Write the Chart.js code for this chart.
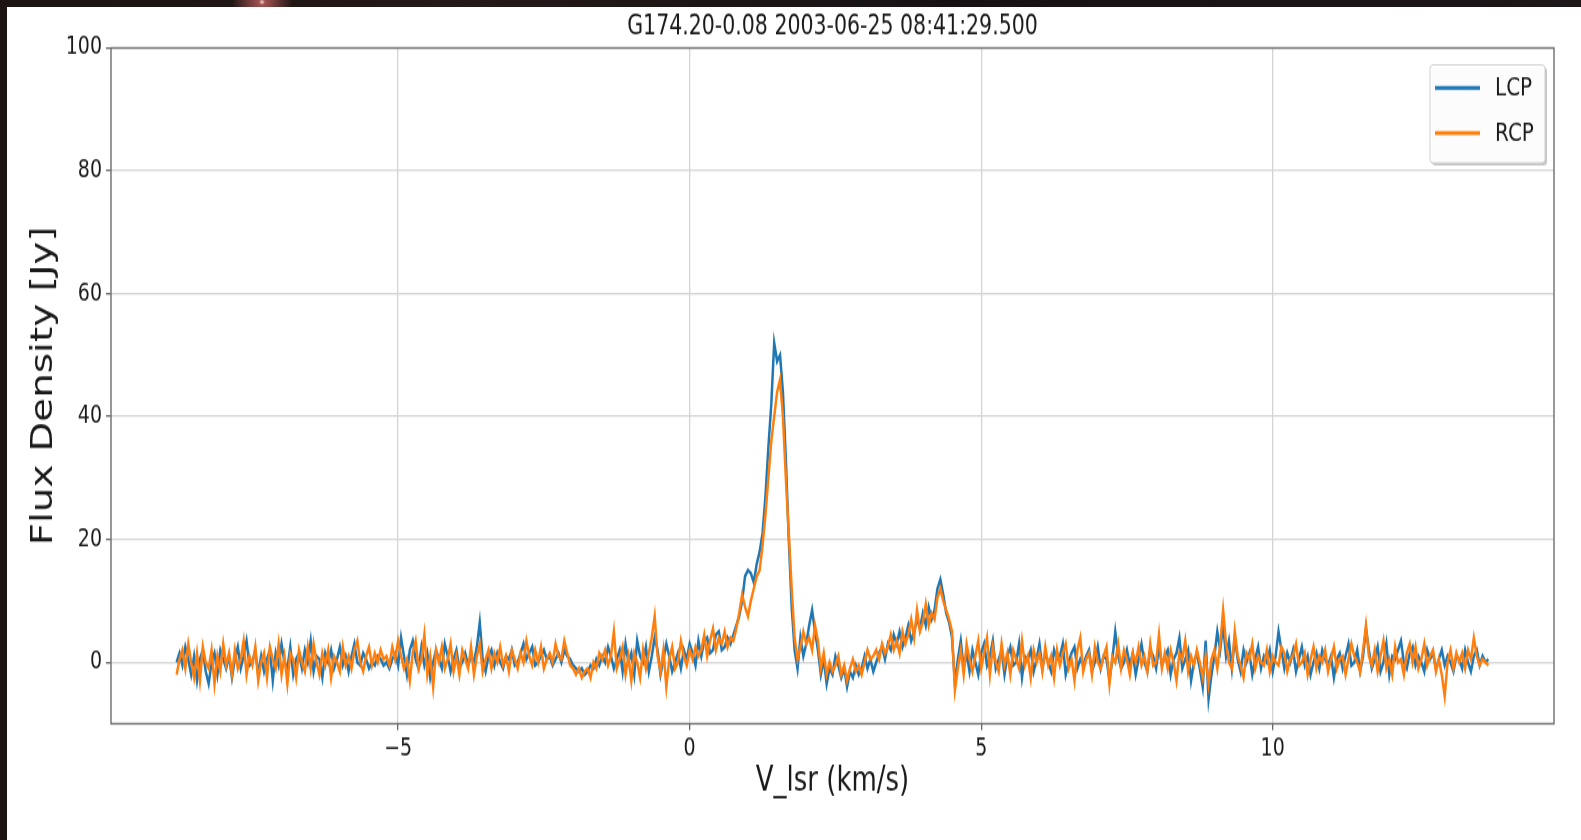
<!DOCTYPE html>
<html><head><meta charset="utf-8">
<script src="https://cdn.jsdelivr.net/npm/chart.js@4.4.0/dist/chart.umd.min.js"></script>
<style>
html,body{margin:0;padding:0;width:1581px;height:840px;overflow:hidden;}
body{background:radial-gradient(circle at 262px 2px,#f3d6d0 0,#a05050 3px,rgba(60,30,30,0) 30px),linear-gradient(90deg,#1b1410,#241a18 30%,#161214 60%,#1d1718);}
#page{position:absolute;left:7px;top:7px;width:1574px;height:833px;background:#fff;overflow:hidden;}
#wrap{position:absolute;left:0;top:0;width:1574px;height:641px;transform:scaleY(1.29953);transform-origin:0 0;}
canvas{display:block;}
</style></head><body>
<div id="page"><div id="wrap"><canvas id="c" width="1574" height="641" style="width:1574px;height:641px"></canvas></div></div>
<script>
// channel grid (km/s): -8.8 ... 13.7 in 0.05 km/s channels
const vStart = -8.8;
const vStep = 0.05;
// LCP flux density (Jy); each line = 1 km/s (20 channels)
const lcp = [
 0.0, 1.5, -0.5, 2.5, 0.5, -2.0, 1.0, -3.0, 0.5, 2.0,   -1.5, -3.5, 0.0, 1.5, -2.0, 2.0, 0.5, -1.0, 1.0, -2.5,
 0.5, 2.5, -1.0, 1.0, 3.5, -0.5, 0.0, 2.0, -2.0, 1.0,   -1.5, 0.5, 2.0, -3.0, 1.5, -0.5, 3.0, 0.0, -1.0, 2.5,
 -2.0, 0.5, 1.5, -1.0, 2.0, 0.0, 3.5, -1.5, 1.0, 0.5,   -2.5, 1.5, 0.0, 2.0, -1.0, 0.5, 2.5, -0.5, 1.0, -1.5,
 1.0, 3.0, 0.0, -0.5, 1.5, 0.5, -1.0, 0.0, -0.5, 1.0,   0.5, -0.5, 0.0, -1.0, 0.5, 1.5, -0.5, 4.0, 1.0, -2.0,
 2.0, 3.5, 0.5, -1.0, 2.5, -0.5, 1.5, -2.5, 0.0, 2.0,   0.5, -1.0, 3.0, 1.0, -1.5, 0.5, 2.0, -1.0, 0.0, 1.5,
 -0.5, 1.0, 0.0, 2.5, 6.5, 0.5, -1.5, 1.0, 2.0, -0.5,   1.5, 0.0, -1.0, 1.0, 0.5, 2.0, -0.5, 0.0, 1.5, 3.0,
 0.5, 1.5, 2.5, -0.5, 0.0, 1.0, 2.0, 0.5, 1.0, -0.5,    0.5, 1.5, 0.0, 2.0, 1.0, 0.5, -0.5, -1.0, -1.5, -1.0,
 -2.0, -1.5, -0.5, -1.0, 0.5, -0.5, 1.0, 0.0, 2.5, 1.0, -1.0, 0.5, 2.0, -1.5, 3.0, 0.0, 1.5, -2.0, 3.5, 1.0,
 0.0, 2.5, -1.5, 1.0, 4.0, 2.0, -2.0, 0.5, 3.0, 1.0,    -1.5, 0.0, 1.5, -1.0, 2.0, 0.5, 3.0, 1.5, -0.5, 3.5,
 1.0, 3.5, 4.0, 1.5, 2.0, 4.5, 5.0, 2.0, 2.5, 4.0,      3.0, 4.5, 6.0, 7.5, 10.0, 14.0, 15.0, 14.5, 13.0, 16.0,
 18.0, 21.0, 27.0, 35.0, 42.0, 52.0, 49.0, 50.0, 44.0, 33.0, 20.0, 9.0, 2.0, -1.0, 4.0, 1.0, 3.0, 6.0, 8.5, 5.0,
 2.0, -2.0, 0.5, -3.5, -1.0, -2.0, 1.0, -0.5, -2.5, -1.0, -4.0, -1.5, -2.5, -0.5, -2.0, -1.0, 1.0, -1.0, 0.5, -1.5,
 0.0, 1.5, 2.5, 0.5, 3.0, 2.0, 4.5, 3.0, 5.0, 2.5,      4.0, 6.0, 3.5, 5.0, 7.0, 5.5, 8.0, 6.0, 9.0, 7.0,
 8.5, 12.0, 13.5, 11.0, 8.0, 6.5, 4.0, -3.5, 0.5, 3.5,  -1.0, 1.5, -1.5, 2.0, 0.0, -2.0, 1.5, 3.0, -0.5, 1.0,
 3.5, -1.0, 0.5, 2.0, -2.0, 1.0, 2.5, -0.5, 0.0, 3.0,   -2.5, 1.0, 0.5, 2.0, -1.5, 0.5, 3.0, -1.0, 1.5, 0.0,
 -1.5, 2.0, 0.5, 1.0, 3.0, -2.0, 0.0, 1.5, 2.5, -1.0,   0.5, -0.5, 1.0, 2.0, -1.5, 0.0, 2.5, -1.0, 1.0, 0.5,
 -3.0, 0.5, 5.0, 1.0, -1.0, 0.0, 2.0, -0.5, 1.5, -2.0,  0.5, 3.0, 0.0, -1.5, 2.0, 1.0, -1.0, 2.5, -0.5, 1.0,
 2.0, -2.0, 0.5, 1.5, 4.0, -1.0, 0.5, 2.0, -3.0, 0.0,   1.5, -1.0, -4.0, 3.5, -6.0, -2.0, 1.0, 5.0, 2.0, 6.0,
 1.0, 3.5, -1.0, 4.0, 0.5, -1.5, 2.0, 0.0, 1.5, -2.0,   0.5, 2.5, -1.0, 1.0, 0.0, 2.0, -1.5, 1.0, 5.0, 2.0,
 -1.0, 1.5, 0.0, 2.0, -1.5, 0.5, 2.5, -0.5, 1.0, -2.0,  0.0, 1.5, -1.0, 2.0, 0.5, -0.5, 1.0, -2.5, 0.5, 1.5,
 -1.0, 1.0, 3.0, -0.5, 0.0, 2.0, -1.5, 1.0, 5.5, 2.0,   -1.0, 0.5, 2.5, -1.5, 0.0, 3.0, -2.0, 1.0, 0.5, 2.0,
 3.5, 0.0, -1.0, 1.5, 2.5, -0.5, 1.0, 0.0, -1.5, 2.0,   0.5, 1.5, -1.0, 0.5, 2.0, -0.5, 1.0, 0.0, -1.5, 1.0,
 0.5, -1.0, 2.0, 0.0, -1.5, 1.0, 2.0, -0.5, 1.0, 0.0,   0.5
];
// RCP flux density (Jy)
const rcp = [
 -2.0, 0.5, 2.0, -1.0, 3.0, 0.0, -2.5, 1.5, -3.0, 2.5, 0.0, -1.0, 2.0, -3.5, 1.0, -1.5, 3.0, -0.5, 1.5, -2.0,
 2.0, -1.0, 0.5, 3.5, -2.0, 1.0, -0.5, 2.5, -3.0, 0.0,  1.5, -2.5, 2.5, 0.5, -1.0, 3.0, -2.0, 1.0, -3.5, 1.5,
 0.5, -2.5, 2.0, 0.0, -1.5, 2.5, -1.0, 3.0, 0.0, -2.0,  1.5, -0.5, 2.0, -2.5, 1.0, 0.0, -1.5, 2.5, -0.5, 1.0,
 -1.0, 2.0, 3.5, 0.0, -1.5, 1.0, 2.5, -0.5, 1.5, 0.0,   2.0, 0.5, 1.0, -0.5, 2.5, 0.5, 3.5, 1.0, -1.0, 0.5,
 -3.0, 1.5, 3.5, -1.0, 0.5, 4.5, -2.0, 1.0, -4.0, 2.0,  0.0, 2.5, -1.0, 0.5, 3.0, -1.5, 1.0, -2.0, 2.0, 0.5,
 -1.0, 2.5, -2.0, 1.0, 3.0, -1.5, 0.5, 2.0, -1.0, 1.5,  0.0, 2.5, -0.5, 1.0, -1.5, 2.0, 0.5, -1.0, 1.5, 0.0,
 3.5, 1.0, -0.5, 2.0, 0.0, 2.5, -1.0, 0.5, 1.5, 0.0,    3.0, 1.0, 0.5, 3.5, 1.5, -0.5, -1.0, -2.0, -1.0, -2.5,
 -1.5, -1.0, -2.5, 0.0, -1.0, 1.5, 0.5, 2.0, -0.5, 1.0, 5.0, -1.0, 0.5, 2.5, -2.0, 1.0, -3.0, 1.5, 0.0, -2.5,
 2.0, -1.0, 1.5, 4.0, 7.5, 1.0, -1.5, 2.0, -4.0, 0.5,   2.5, -1.0, 0.0, 3.5, 1.0, -0.5, 2.0, 0.5, 2.5, 1.0,
 2.0, 4.5, 1.0, 3.5, 5.5, 2.0, 4.0, 3.0, 5.0, 2.5,      4.0, 3.5, 5.5, 8.0, 11.0, 9.0, 7.5, 10.0, 12.0, 14.0,
 15.0, 19.0, 24.0, 30.0, 36.0, 40.0, 44.0, 46.0, 40.0, 30.0, 21.0, 12.0, 4.0, 0.5, 2.5, 5.0, 3.0, 4.0, 2.0, 6.0,
 3.5, -1.0, 1.5, -2.0, 0.0, -1.5, -0.5, 1.0, -2.0, -0.5, -3.0, -1.0, 0.5, -1.5, -0.5, -2.0, 0.0, 2.0, 0.5, 1.0,
 2.0, 0.5, 3.0, 1.5, 2.5, 4.5, 2.0, 3.5, 1.5, 5.0,      3.0, 4.5, 7.0, 4.0, 8.5, 5.0, 6.5, 9.5, 6.0, 8.0,
 7.0, 10.5, 12.0, 10.0, 8.5, 7.0, 5.0, -4.5, -1.0, 2.0, -2.0, 3.0, 0.5, -1.5, 1.0, 3.5, -1.0, 1.5, 4.0, -2.0,
 2.5, 0.0, -1.5, 3.0, -0.5, 1.5, -2.0, 2.0, 0.5, -1.0,  3.5, -0.5, 1.0, -2.5, 2.0, 0.0, 1.5, -1.5, 2.5, -0.5,
 1.0, -2.5, 2.0, -0.5, 1.5, 3.0, -1.0, 0.5, -3.0, 2.0,  4.0, -1.5, 0.5, 1.5, -2.0, 2.5, 0.0, -1.0, 1.0, 2.5,
 -3.5, 1.0, 0.0, 3.0, -1.0, 2.0, 0.5, -2.0, 1.5, 0.0,   2.5, -0.5, 1.0, -1.5, 3.0, -0.5, 0.0, 4.5, -1.0, 1.5,
 -1.0, 2.0, 0.0, -3.0, 1.5, 0.5, 3.5, -1.5, 1.0, -0.5,  2.0, 0.0, -2.5, 1.0, -3.5, 0.5, 2.0, -1.0, 3.0, 8.5,
 3.0, 0.0, -1.0, 5.0, 1.0, -0.5, -2.5, 1.5, 0.5, 3.0,   -1.0, 1.0, 0.0, -0.5, 2.0, -1.5, 1.0, 0.0, -0.5, 2.5,
 1.5, -1.5, 0.5, 1.0, 3.0, -0.5, 0.0, 1.5, -2.0, 0.5,   2.5, -1.0, 1.0, 0.0, 2.0, -1.5, 0.5, 2.5, -1.0, 0.5,
 1.0, -2.0, 0.5, 3.0, 1.0, 0.0, -1.5, 2.0, 6.0, 1.0,    -0.5, 2.0, -1.5, 1.0, 3.5, -1.0, 0.5, -2.0, 2.5, 0.0,
 0.5, -2.0, 1.5, 3.0, 0.0, 2.5, -1.0, 0.5, 3.0, -0.5,   1.0, 2.0, -1.5, 0.5, -2.0, -5.5, 0.0, 2.0, -1.0, 1.5,
 0.0, 1.5, -1.0, 2.0, 0.5, 4.0, 1.0, -0.5, 0.5, 0.0,    -0.5
];
const seriesNames = ['LCP', 'RCP'];
const seriesColors = ['#1f77b4', '#ff7f0e'];
const xTickValues = [-5, 0, 5, 10];
const yTickValues = [0, 20, 40, 60, 80, 100];
const titleText = 'G174.20-0.08 2003-06-25 08:41:29.500';
const xLabel = 'V_lsr (km/s)';
const yLabel = 'Flux Density [Jy]';

const vel = (i) => Math.round((vStart + i * vStep) * 1000) / 1000;
const toPts = (arr) => arr.map((y, i) => ({x: vel(i), y: y}));

const FONT = "'DejaVu Sans', sans-serif";

const framePlugin = {
  id: 'frame',
  afterDatasetsDraw(chart) {
    const {ctx, chartArea: a} = chart;
    ctx.save();
    ctx.strokeStyle = '#6e6e6e';
    ctx.lineWidth = 1.4;
    ctx.strokeRect(a.left, a.top, a.right - a.left, a.bottom - a.top);
    ctx.restore();
  },
  afterDraw(chart) {
    const {ctx, chartArea: a} = chart;
    const w = 115, h = 75.5;
    const x = a.right - 9 - w, y = a.top + 13;
    const rr = (px, py, pw, ph, r) => {
      ctx.beginPath();
      ctx.moveTo(px + r, py);
      ctx.lineTo(px + pw - r, py); ctx.quadraticCurveTo(px + pw, py, px + pw, py + r);
      ctx.lineTo(px + pw, py + ph - r); ctx.quadraticCurveTo(px + pw, py + ph, px + pw - r, py + ph);
      ctx.lineTo(px + r, py + ph); ctx.quadraticCurveTo(px, py + ph, px, py + ph - r);
      ctx.lineTo(px, py + r); ctx.quadraticCurveTo(px, py, px + r, py);
      ctx.closePath();
    };
    ctx.save();
    ctx.fillStyle = 'rgba(0,0,0,0.22)';
    rr(x + 2, y + 2, w, h, 3); ctx.fill();
    ctx.fillStyle = 'rgba(255,255,255,0.95)';
    rr(x, y, w, h, 3); ctx.fill();
    ctx.strokeStyle = '#cfcfcf'; ctx.lineWidth = 1;
    rr(x, y, w, h, 3); ctx.stroke();
    chart.data.datasets.forEach((ds, i) => {
      const cy = y + 17.7 + i * 34.7;
      ctx.strokeStyle = ds.borderColor; ctx.lineWidth = 3;
      ctx.beginPath(); ctx.moveTo(x + 5, cy); ctx.lineTo(x + 50, cy); ctx.stroke();
      ctx.fillStyle = '#1a1a1a';
      ctx.font = '20px ' + FONT;
      ctx.textBaseline = 'middle'; ctx.textAlign = 'left';
      ctx.fillText(ds.label, x + 65, cy + 1);
    });
    ctx.restore();
  }
};

new Chart(document.getElementById('c'), {
  type: 'line',
  data: {
    datasets: [
      {label: seriesNames[0], data: toPts(lcp), borderColor: seriesColors[0], backgroundColor: seriesColors[0], borderWidth: 2.5, pointRadius: 0, tension: 0, order: 1},
      {label: seriesNames[1], data: toPts(rcp), borderColor: seriesColors[1], backgroundColor: seriesColors[1], borderWidth: 2.5, pointRadius: 0, tension: 0, order: 0}
    ]
  },
  options: {
    responsive: false,
    animation: false,
    devicePixelRatio: 1,
    layout: {padding: {left: 0, right: 27, top: 0, bottom: 0}},
    plugins: {
      legend: {display: false},
      tooltip: {enabled: false},
      title: {
        display: true, text: titleText, fullSize: false,
        color: '#1a1a1a', font: {family: FONT, size: 20.5, weight: 'normal', lineHeight: 1.2},
        padding: {top: 3.7, bottom: 3.2}
      }
    },
    scales: {
      x: {
        type: 'linear', min: -9.925, max: 14.825,
        afterBuildTicks: (s) => { s.ticks = xTickValues.map(v => ({value: v})); },
        afterFit: (s) => { s.height = 89.5; },
        ticks: {
          color: '#1a1a1a', font: {family: FONT, size: 19}, padding: 3,
          maxRotation: 0, autoSkip: false,
          callback: (v) => (v < 0 ? '\u2212' + Math.abs(v) : String(v))
        },
        grid: {color: '#d4d4d4', lineWidth: 1.3, tickLength: 5, tickColor: '#666', drawTicks: true},
        border: {display: false},
        title: {display: true, text: xLabel, color: '#1a1a1a', font: {family: FONT, size: 26}, padding: {top: 0, bottom: 29}}
      },
      y: {
        type: 'linear', min: -10, max: 100,
        afterBuildTicks: (s) => { s.ticks = yTickValues.map(v => ({value: v})); },
        afterFit: (s) => { s.width = 104; },
        ticks: {color: '#1a1a1a', font: {family: FONT, size: 19}, padding: 4, autoSkip: false},
        grid: {color: '#d4d4d4', lineWidth: 1.3, tickLength: 5, tickColor: '#666', drawTicks: true},
        border: {display: false},
        title: {display: true, text: yLabel, color: '#1a1a1a', font: {family: FONT, size: 30}, padding: {top: 19.5, bottom: 0}}
      }
    }
  },
  plugins: [framePlugin]
});
</script>
</body></html>
